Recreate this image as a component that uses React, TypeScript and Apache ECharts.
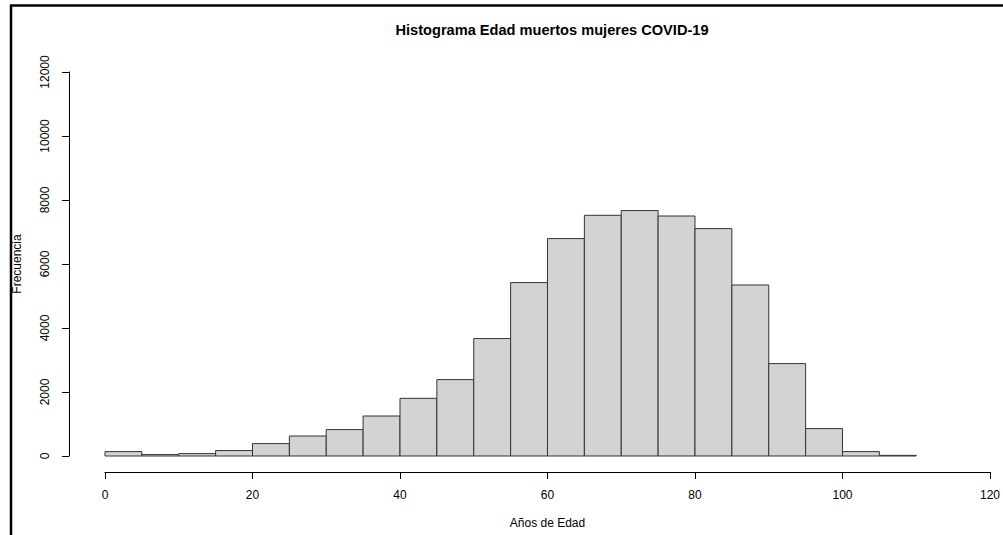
import React, { useEffect, useRef } from "react";
import * as echarts from "echarts";

const binStarts = [0, 5, 10, 15, 20, 25, 30, 35, 40, 45, 50, 55, 60, 65, 70, 75, 80, 85, 90, 95, 100, 105];
const binWidth = 5;
const counts = [137, 44, 75, 170, 387, 625, 825, 1250, 1803, 2387, 3669, 5419, 6794, 7522, 7669, 7500, 7106, 5344, 2887, 856, 137, 20];
const xTicks = [0, 20, 40, 60, 80, 100, 120];
const yTicks = [0, 2000, 4000, 6000, 8000, 10000, 12000];
const titleText = "Histograma Edad muertos mujeres COVID-19";
const xName = "Años de Edad";
const yName = "Frecuencia";

const FONT = "'Liberation Sans', Arial, sans-serif";

export default function App() {
  const ref = useRef<HTMLDivElement>(null);
  useEffect(() => {
    if (!ref.current) return;
    const chart = echarts.init(ref.current, null, { renderer: "svg" });
    const data = binStarts.map((s, i) => [s, s + binWidth, counts[i]]);
    chart.setOption({
      animation: false,
      backgroundColor: "#ffffff",
      title: {
        text: titleText,
        left: 547,
        top: 17,
        textAlign: "center",
        textStyle: { fontFamily: FONT, fontWeight: "bold", fontSize: 14.6, color: "#000" },
      },
      grid: { left: 105, right: 5, top: 72, bottom: 79, containLabel: false },
      xAxis: {
        type: "value",
        min: xTicks[0],
        max: xTicks[xTicks.length - 1],
        interval: 20,
        offset: 16,
        name: xName,
        nameLocation: "middle",
        nameGap: 45,
        nameTextStyle: { fontFamily: FONT, fontSize: 12, color: "#000" },
        axisLine: { show: true, onZero: false, lineStyle: { color: "#000", width: 1 } },
        axisTick: { show: true, inside: false, length: 7, lineStyle: { color: "#000" } },
        axisLabel: {
          show: true, margin: 17, fontFamily: FONT, fontSize: 12, color: "#000",
          showMinLabel: true, showMaxLabel: true, formatter: (v: number) => String(v),
        },
        splitLine: { show: false },
      },
      yAxis: {
        type: "value",
        min: yTicks[0],
        max: yTicks[yTicks.length - 1],
        interval: 2000,
        offset: 36,
        name: yName,
        nameLocation: "middle",
        nameGap: 46,
        nameTextStyle: { fontFamily: FONT, fontSize: 12, color: "#000" },
        axisLine: { show: true, onZero: false, lineStyle: { color: "#000", width: 1 } },
        axisTick: { show: true, inside: false, length: 7, lineStyle: { color: "#000" } },
        axisLabel: {
          show: true, rotate: 90, margin: 18, fontFamily: FONT, fontSize: 12, color: "#000",
          formatter: (v: number) => String(v),
        },
        splitLine: { show: false },
      },
      graphic: [
        { type: "line", shape: { x1: 10, y1: 5.5, x2: 1003, y2: 5.5 }, style: { stroke: "#000", lineWidth: 2.5 } },
        { type: "line", shape: { x1: 11, y1: 5, x2: 11, y2: 535 }, style: { stroke: "#000", lineWidth: 2.5 } },
      ],
      series: [
        {
          type: "custom",
          data,
          renderItem: (params: any, api: any) => {
            const x0 = api.value(0);
            const x1 = api.value(1);
            const y = api.value(2);
            const p0 = api.coord([x0, y]);
            const p1 = api.coord([x1, 0]);
            return {
              type: "rect",
              shape: { x: p0[0], y: p0[1], width: p1[0] - p0[0], height: p1[1] - p0[1] },
              style: { fill: "#D3D3D3", stroke: "#333333", lineWidth: 1 },
            };
          },
          encode: { x: [0, 1], y: 2 },
        },
      ],
    });
    return () => chart.dispose();
  }, []);
  return (
    <div
      ref={ref}
      style={{ position: "absolute", left: 0, top: 0, width: 1003, height: 535, background: "#fff" }}
    />
  );
}
